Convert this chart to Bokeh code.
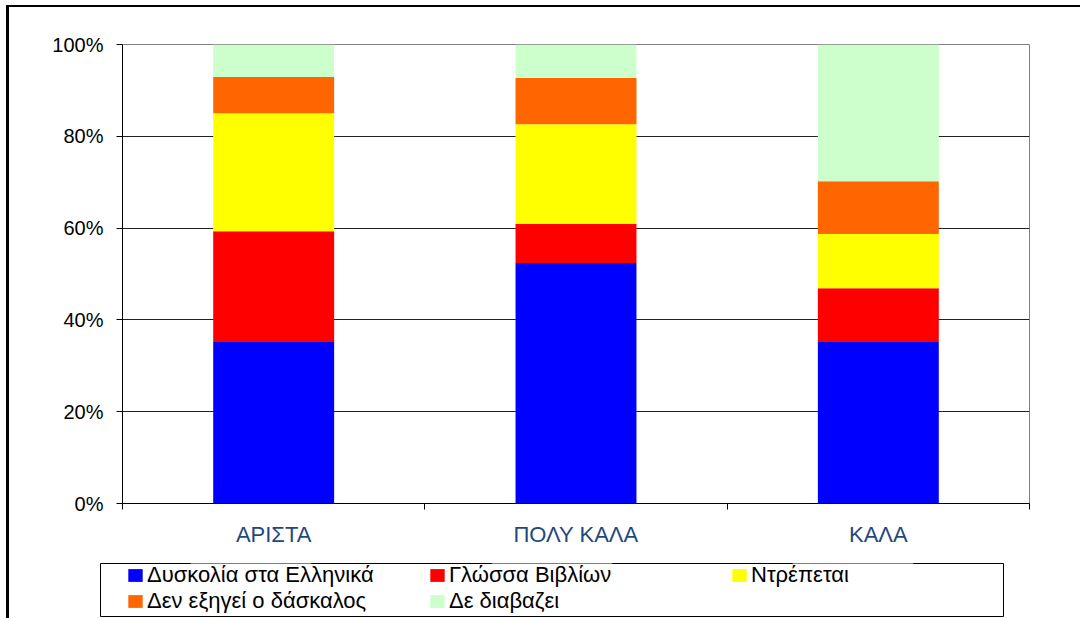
from bokeh.plotting import figure
from bokeh.layouts import column, row
from bokeh.models import (Range1d, FixedTicker, PrintfTickFormatter, Legend,
                          LegendItem, ColumnDataSource)
from bokeh.embed import file_html
from bokeh.resources import INLINE

# ---- data -------------------------------------------------------------
categories = ["ΑΡΙΣΤΑ", "ΠΟΛΥ ΚΑΛΑ", "ΚΑΛΑ"]
series_names = ["Δυσκολία στα Ελληνικά", "Γλώσσα Βιβλίων", "Ντρέπεται",
                "Δεν εξηγεί ο δάσκαλος", "Δε διαβαζει"]
dyskolia = [35.2, 52.4, 35.2]
glossa = [24.1, 8.5, 11.7]
ntrepetai = [25.7, 21.7, 11.8]
den_exigei = [7.9, 10.1, 11.5]
de_diavazei = [7.1, 7.3, 29.8]
y_ticks = [0, 20, 40, 60, 80, 100]
colors = ["#0000FF", "#FF0000", "#FFFF00", "#FF6600", "#CCFFCC"]

FONT = "Liberation Sans"

xs = [i + 0.5 for i in range(len(categories))]
keys = ["s0", "s1", "s2", "s3", "s4"]
source = ColumnDataSource(dict(x=xs, s0=dyskolia, s1=glossa, s2=ntrepetai,
                               s3=den_exigei, s4=de_diavazei))

# ---- main chart ---------------------------------------------------------
p = figure(width=1071, height=552, output_backend="svg", toolbar_location=None,
           x_range=Range1d(0, len(categories)), y_range=Range1d(0, 100),
           min_border_left=113, min_border_right=51, min_border_top=37,
           min_border_bottom=56)
p.background_fill_color = "white"
p.border_fill_color = "white"
p.outline_line_color = "#808080"
p.outline_line_width = 1

renderers = p.vbar_stack(keys, x="x", width=0.4, fill_color=colors,
                         line_color=None, source=source)

p.xaxis.ticker = FixedTicker(ticks=xs, minor_ticks=list(range(len(categories) + 1)))
p.xaxis.major_label_overrides = {x: c for x, c in zip(xs, categories)}
p.xaxis.major_tick_out = 0
p.xaxis.major_tick_in = 0
p.xaxis.minor_tick_out = 6
p.xaxis.minor_tick_in = 0
p.xaxis.minor_tick_line_color = "black"
p.xaxis.axis_line_color = "black"
p.xaxis.major_label_standoff = 12
p.xaxis.major_label_text_color = "#1F497D"
p.xaxis.major_label_text_font = FONT
p.xaxis.major_label_text_font_size = "22px"

p.yaxis.ticker = FixedTicker(ticks=y_ticks, minor_ticks=[])
p.yaxis.formatter = PrintfTickFormatter(format="%d%%")
p.yaxis.major_tick_out = 6
p.yaxis.major_tick_in = 0
p.yaxis.minor_tick_out = 0
p.yaxis.minor_tick_in = 0
p.yaxis.axis_line_color = "black"
p.yaxis.major_tick_line_color = "black"
p.yaxis.major_label_standoff = 13
p.yaxis.major_label_text_color = "black"
p.yaxis.major_label_text_font = FONT
p.yaxis.major_label_text_font_size = "20px"

p.xgrid.visible = False
p.ygrid.ticker = FixedTicker(ticks=[t for t in y_ticks if t < max(y_ticks)])
p.ygrid.grid_line_color = "#222222"
p.ygrid.grid_line_width = 1

# ---- legend panel (its frame is the legend box) -------------------------
pl = figure(width=1071, height=59, output_backend="svg", toolbar_location=None,
            x_range=Range1d(0, len(categories)), y_range=Range1d(-300, -200),
            x_axis_type=None, y_axis_type=None,
            min_border_left=91, min_border_right=77, min_border_top=4,
            min_border_bottom=2)
pl.background_fill_color = "white"
pl.border_fill_color = "white"
pl.outline_line_color = "black"
pl.outline_line_width = 1
pl.grid.visible = False

# same stacked data; the y range keeps these bars out of view, only swatches show
swatches = pl.vbar_stack(keys, x="x", width=0.4, fill_color=colors,
                         line_color=None, source=source)
items = [LegendItem(label=n, renderers=[r]) for n, r in zip(series_names, swatches)]
legend = Legend(items=items, location=(26, 2), orientation="horizontal",
                ncols=3, padding=0, spacing=0, margin=0,
                glyph_width=18, glyph_height=16, label_standoff=3,
                label_width=281, label_height=16,
                label_text_font=FONT, label_text_font_size="22px",
                label_text_color="black",
                border_line_alpha=0, background_fill_alpha=0)
pl.add_layout(legend)

layout = column(p, row(pl), spacing=0)
layout.styles = {"margin-left": "6px", "margin-top": "5px",
                 "border-top": "2px solid black", "border-left": "3px solid black"}

open("out.html", "w").write(file_html(layout, INLINE))
